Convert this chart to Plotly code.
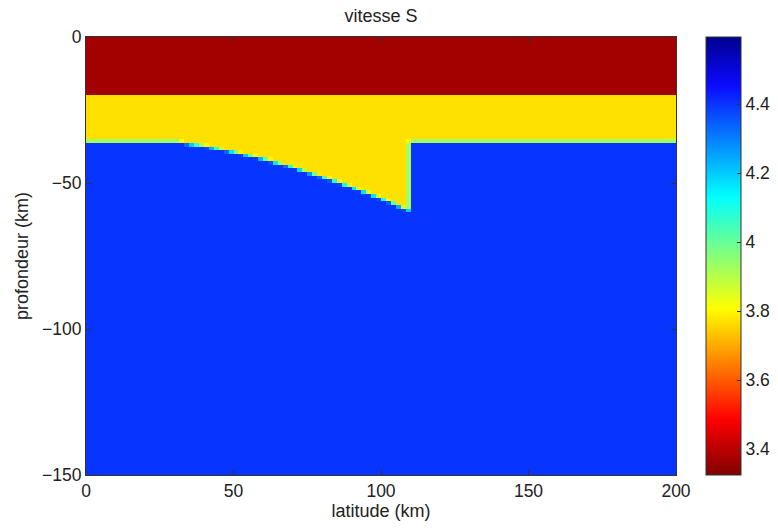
import numpy as np
import plotly.graph_objects as go

# ---- data ----
layer_names = ["couche 1", "couche 2", "manteau"]
layer_vs = [3.37, 3.77, 4.40]          # vitesse S (km/s)
layer_base_km = [20.0, 35.9]           # depth of base of layers 1 and 2
wedge_x_km = [31, 40, 50, 60, 70, 80, 90, 100, 105, 109.6]
wedge_base_km = [35.9, 37.3, 39.4, 41.8, 44.6, 47.9, 51.4, 55.2, 57.4, 59.6]

x_max_km = 200.0
z_max_km = 150.0
nx, nz = 120, 120
cmin, cmax = 3.325, 4.595

x_ticks = [0, 50, 100, 150, 200]
y_ticks = [0, -50, -100, -150]
cb_ticks = [3.4, 3.6, 3.8, 4.0, 4.2, 4.4]
cb_ticktext = ["3.4", "3.6", "3.8", "4", "4.2", "4.4"]

# ---- rasterise the model on the grid (cell averages) ----
ss = 8
dx = x_max_km / nx
dz = z_max_km / nz
xs = (np.arange(nx * ss) + 0.5) * dx / ss
zs = (np.arange(nz * ss) + 0.5) * dz / ss
X, Z = np.meshgrid(xs, zs)
V = np.full(X.shape, layer_vs[2])
V[Z < layer_base_km[1]] = layer_vs[1]
wb = np.interp(X, wedge_x_km, wedge_base_km)
inwedge = (X >= wedge_x_km[0]) & (X <= wedge_x_km[-1]) & (Z < wb)
V[inwedge] = layer_vs[1]
V[Z < layer_base_km[0]] = layer_vs[0]
Vc = V.reshape(nz, ss, nx, ss).mean(axis=(1, 3))

xc = (np.arange(nx) + 0.5) * dx
yc = -(np.arange(nz) + 0.5) * dz

jet_r = [
    [0.0, "rgb(128,0,0)"],
    [0.127, "rgb(255,0,0)"],
    [0.38, "rgb(255,255,0)"],
    [0.635, "rgb(0,255,255)"],
    [0.89, "rgb(10,10,255)"],
    [1.0, "rgb(0,0,143)"],
]

font = "Liberation Sans, Arial, Helvetica, sans-serif"
tick_size = 17.5
label_size = 18

W, H = 778, 529
fig = go.Figure(
    go.Heatmap(
        x=xc, y=yc, z=Vc,
        colorscale=jet_r, zmin=cmin, zmax=cmax, zsmooth=False,
        colorbar=dict(
            x=(706 - 86) / 590, xanchor="left",
            y=0, yanchor="bottom", len=1, lenmode="fraction",
            thickness=35, thicknessmode="pixels",
            outlinewidth=1, outlinecolor="#333",
            ticks="inside", ticklen=4, tickcolor="#333",
            tickvals=cb_ticks, ticktext=cb_ticktext,
            tickfont=dict(family=font, size=tick_size, color="#222"),
            xpad=0, ypad=0,
        ),
    )
)

axis_common = dict(
    showline=True, linecolor="#333", linewidth=1, mirror="ticks",
    ticks="inside", ticklen=5, tickcolor="#333",
    showgrid=False, zeroline=False,
    tickfont=dict(family=font, size=tick_size, color="#222"),
)

fig.update_layout(
    width=W, height=H,
    margin=dict(l=86, r=102, t=37, b=54, autoexpand=False),
    paper_bgcolor="white", plot_bgcolor="white",
    title=dict(text="vitesse S", x=(86 + 676) / 2 / W, xanchor="center",
               y=1 - 16 / H, yanchor="middle",
               font=dict(family=font, size=label_size, color="#222")),
    xaxis=dict(range=[0, x_max_km], tickvals=x_ticks,
               title=dict(text="latitude (km)", standoff=4,
                          font=dict(family=font, size=label_size, color="#222")),
               **axis_common),
    yaxis=dict(range=[-z_max_km, 0], tickvals=y_ticks,
               title=dict(text="profondeur (km)", standoff=8,
                          font=dict(family=font, size=label_size, color="#222")),
               **axis_common),
)

fig.write_html("out.html")
